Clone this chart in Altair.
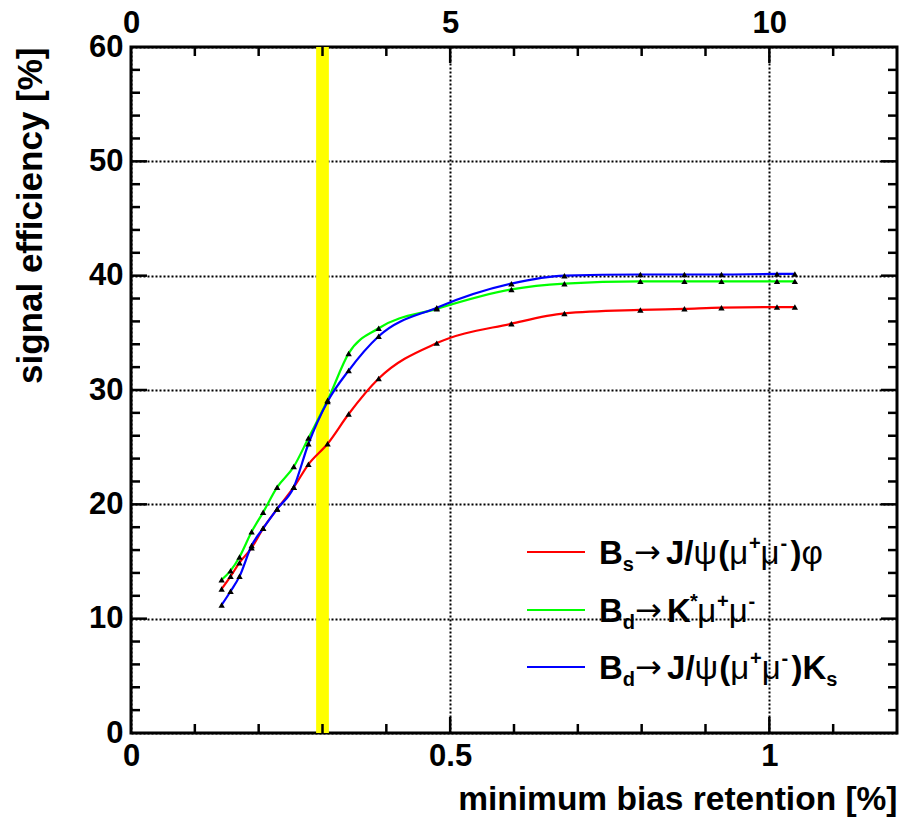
import altair as alt
import pandas as pd

# minimum bias retention [%] at each working point
retention = [0.142, 0.156, 0.170, 0.189, 0.207, 0.229, 0.255, 0.278, 0.308, 0.341,
             0.388, 0.479, 0.596, 0.679, 0.798, 0.867, 0.925, 1.012, 1.040]

# signal efficiency [%] per channel
eff_bs_jpsi_phi = [12.6, 13.7, 14.9, 16.2, 17.9, 19.6, 21.5, 23.5, 25.3, 27.9,
                   31.0, 34.1, 35.8, 36.7, 37.0, 37.1, 37.2, 37.25, 37.25]
eff_bd_kstar_mumu = [13.4, 14.2, 15.4, 17.6, 19.3, 21.5, 23.3, 25.8, 29.1, 33.2,
                     35.4, 37.1, 38.8, 39.3, 39.5, 39.5, 39.5, 39.5, 39.5]
eff_bd_jpsi_ks = [11.2, 12.4, 13.7, 16.4, 17.9, 19.6, 21.5, 25.3, 29.0, 31.7,
                  34.7, 37.2, 39.3, 40.0, 40.1, 40.1, 40.1, 40.15, 40.15]

series_keys = ["bs_jpsi_phi", "bd_kstar_mumu", "bd_jpsi_ks"]
series_values = [eff_bs_jpsi_phi, eff_bd_kstar_mumu, eff_bd_jpsi_ks]
series_colors = ["#ff0000", "#00ff00", "#0000ff"]

# highlighted working point band
band_lo = [0.29]
band_hi = [0.31]

# axis ticks
x_major = [0.0, 0.5, 1.0]
x_minor = [0.1, 0.2, 0.3, 0.4, 0.6, 0.7, 0.8, 0.9, 1.1]
x_major_inner = [0.5, 1.0]
y_major = [0, 10, 20, 30, 40, 50, 60]
y_major_inner = [10, 20, 30, 40, 50]
y_minor = [v for v in range(2, 60, 2) if v % 10 != 0]

# legend text pieces: (text, style)
legend_entries = [
    [("B", "b"), ("s", "sub"), ("\u2192", "arrow"), (" J/", "b"), ("\u03c8", "g"), ("(", "b"),
     ("\u03bc", "g"), ("+", "sup"), ("\u03bc", "g"), ("-", "sup"), (")", "b"), ("\u03c6", "g")],
    [("B", "b"), ("d", "sub"), ("\u2192", "arrow"), (" K", "b"), ("*", "sup"),
     ("\u03bc", "g"), ("+", "sup"), ("\u03bc", "g"), ("-", "sup")],
    [("B", "b"), ("d", "sub"), ("\u2192", "arrow"), (" J/", "b"), ("\u03c8", "g"), ("(", "b"),
     ("\u03bc", "g"), ("+", "sup"), ("\u03bc", "g"), ("-", "sup"), (")", "b"), ("K", "b"), ("s", "sub")],
]

W, H = 766, 686
FONT = "Liberation Sans"
ARROW_FONT = "DejaVu Sans"
LABEL_SIZE = 31
TITLE_SIZE = 33.5
Y_TITLE_SIZE = 35
LEG_SIZE = 33
SUB_SIZE = 20
ARROW_SIZE = 32
MAJOR_LEN, MINOR_LEN = 16, 9

x_scale = alt.Scale(domain=[0, 1.2], nice=False, zero=False)
y_scale = alt.Scale(domain=[0, 60], nice=False, zero=False)

grid_style = dict(grid=True, gridColor="black", gridDash=[2, 2], gridWidth=2,
                  gridOpacity=1, ticks=False, domain=False)
label_style = dict(labelFont=FONT, labelFontSize=LABEL_SIZE, labelFontWeight="bold",
                   labelColor="black", titleFont=FONT,
                   titleFontWeight="bold", titleColor="black")

x_bottom_axis = alt.Axis(values=x_major, format="~g", title="minimum bias retention [%]",
                         titleAnchor="end", titlePadding=12, labelPadding=8,
                         titleFontSize=TITLE_SIZE, labelFlush=False,
                         **grid_style, **label_style)
y_left_axis = alt.Axis(values=y_major, title="signal efficiency [%]", titleAnchor="end",
                       titlePadding=40, labelPadding=8, labelFlush=False,
                       titleFontSize=Y_TITLE_SIZE, **grid_style, **label_style)
x_top_axis = alt.Axis(orient="top", values=x_major, labelExpr="format(datum.value * 10, '~g')",
                      title=None, labelPadding=8, labelFlush=False, grid=False, ticks=False,
                      domain=False, **{k: v for k, v in label_style.items() if k.startswith("label")})

# yellow band (carries the bottom axis and the vertical grid)
band = alt.Chart(pd.DataFrame({"lo": band_lo, "hi": band_hi})).mark_rect(
    color="#ffff00", opacity=1
).encode(
    x=alt.X("lo:Q", scale=x_scale, axis=x_bottom_axis),
    x2="hi:Q",
    y=alt.value(0),
    y2=alt.value(H),
)

rows = []
for key, vals in zip(series_keys, series_values):
    for xv, yv in zip(retention, vals):
        rows.append({"series": key, "retention": xv, "eff": yv})
curve_df = pd.DataFrame(rows)

layers = [band]
for i, (key, col) in enumerate(zip(series_keys, series_colors)):
    layers.append(
        alt.Chart(curve_df[curve_df.series == key]).mark_line(
            color=col, strokeWidth=2.2, interpolate="monotone"
        ).encode(
            x=alt.X("retention:Q", scale=x_scale, axis=None),
            y=alt.Y("eff:Q", scale=y_scale, axis=y_left_axis if i == 0 else None),
        )
    )

markers = alt.Chart(curve_df).mark_point(
    shape="triangle-up", filled=True, color="black", size=40, opacity=1
).encode(
    x=alt.X("retention:Q", scale=x_scale, axis=x_top_axis),
    y=alt.Y("eff:Q", scale=y_scale, axis=None),
)
layers.append(markers)

# inward-pointing frame ticks
def x_ticks(values, length):
    d = pd.DataFrame({"v": values})
    bottom = alt.Chart(d).mark_rule(color="black", strokeWidth=2.5).encode(
        x=alt.X("v:Q", scale=x_scale, axis=None), y=alt.value(H), y2=alt.value(H - length))
    top = alt.Chart(d).mark_rule(color="black", strokeWidth=2.5).encode(
        x=alt.X("v:Q", scale=x_scale, axis=None), y=alt.value(0), y2=alt.value(length))
    return [bottom, top]

def y_ticks(values, length):
    d = pd.DataFrame({"v": values})
    left = alt.Chart(d).mark_rule(color="black", strokeWidth=2.5).encode(
        y=alt.Y("v:Q", scale=y_scale, axis=None), x=alt.value(0), x2=alt.value(length))
    right = alt.Chart(d).mark_rule(color="black", strokeWidth=2.5).encode(
        y=alt.Y("v:Q", scale=y_scale, axis=None), x=alt.value(W), x2=alt.value(W - length))
    return [left, right]

layers += x_ticks(x_major_inner, MAJOR_LEN) + x_ticks(x_minor, MINOR_LEN)
layers += y_ticks(y_major_inner, MAJOR_LEN) + y_ticks(y_minor, MINOR_LEN)

# legend: sample lines and composed labels (advance widths in em)
BOLD_W = {"B": 0.722, "K": 0.722, "J": 0.556, "/": 0.278, "(": 0.333, ")": 0.333,
          " ": 0.278, "s": 0.556, "d": 0.611, "+": 0.584, "-": 0.5, "*": 0.36}
REG_W = {"\u03bc": 0.6, "\u03c8": 0.75, "\u03c6": 0.8}
ARROW_W = {"\u2192": 1.0}
KERN_BEFORE = {"\u03c8": -0.28, "*": -0.5}  # tighten psi after the slash and the star after K

LEG_LINE_X0, LEG_LINE_X1, LEG_TEXT_X = 396, 454, 468
LEG_ROW_Y = [505, 563, 620]

seg_rows = []
line_rows = []
for i, (entry, col) in enumerate(zip(legend_entries, series_colors)):
    cy = LEG_ROW_Y[i]
    base = cy + 12
    line_rows.append({"x0": LEG_LINE_X0, "x1": LEG_LINE_X1, "y": cy, "c": col})
    xpos = LEG_TEXT_X
    for txt, style in entry:
        if style == "sub":
            size, yy, kind, table = SUB_SIZE, base + 7, "bold", BOLD_W
        elif style == "sup":
            size, yy, kind, table = SUB_SIZE, base - 14, "bold", BOLD_W
        elif style == "arrow":
            size, yy, kind, table = ARROW_SIZE, base - 1, "arrow", ARROW_W
        elif style == "g":
            size, yy, kind, table = LEG_SIZE, base, "normal", REG_W
        else:
            size, yy, kind, table = LEG_SIZE, base, "bold", BOLD_W
        xpos += KERN_BEFORE.get(txt, 0) * size
        seg_rows.append({"t": txt, "x": xpos, "y": yy, "s": size, "k": kind})
        xpos += sum(table.get(ch, 0.6) for ch in txt) * size

seg_df = pd.DataFrame(seg_rows)
line_df = pd.DataFrame(line_rows)

for col in series_colors:
    layers.append(
        alt.Chart(line_df[line_df.c == col]).mark_rule(color=col, strokeWidth=2.2).encode(
            x=alt.X("x0:Q", scale=None, axis=None), x2="x1:Q",
            y=alt.Y("y:Q", scale=None, axis=None))
    )
text_kinds = {"bold": (FONT, "bold"), "normal": (FONT, "normal"), "arrow": (ARROW_FONT, "normal")}
for kind, (fam, weight) in text_kinds.items():
    layers.append(
        alt.Chart(seg_df[seg_df.k == kind]).mark_text(
            font=fam, fontWeight=weight, align="left", baseline="alphabetic", color="black"
        ).encode(
            x=alt.X("x:Q", scale=None, axis=None),
            y=alt.Y("y:Q", scale=None, axis=None),
            size=alt.Size("s:Q", scale=None, legend=None),
            text="t:N",
        )
    )

chart = alt.layer(*layers).resolve_axis(x="independent", y="independent").properties(
    width=W, height=H,
    autosize=alt.AutoSizeParams(type="none"),
    padding={"left": 131, "top": 47, "right": 15, "bottom": 94},
    background="white",
).configure_view(stroke="black", strokeWidth=3)

chart.save("out.html", embed_options={"renderer": "svg", "actions": False})
